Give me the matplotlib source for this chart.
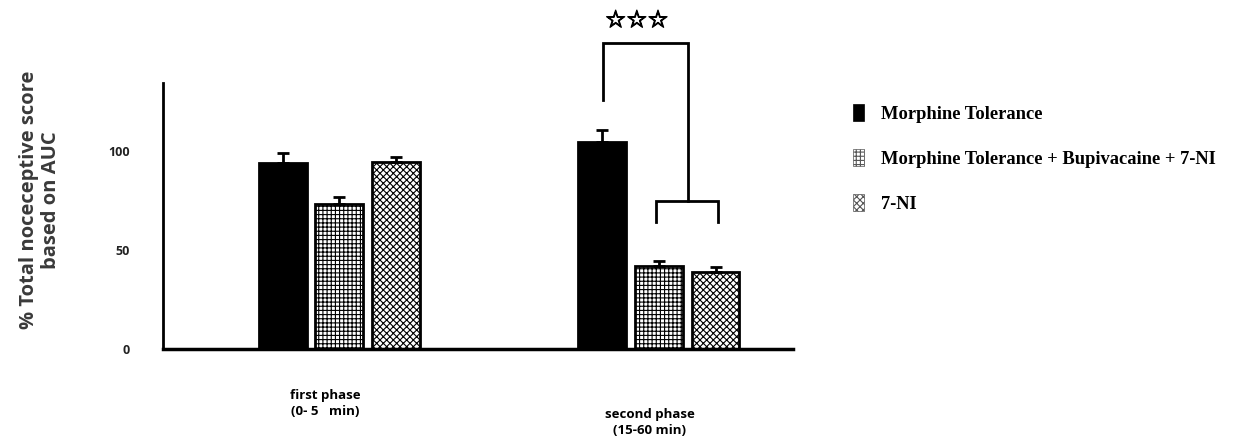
import matplotlib
matplotlib.use("Agg")
import matplotlib.pyplot as plt
from matplotlib.patches import Patch
import matplotlib.patheffects as pe
import numpy as np

phases = ["first phase\n(0- 5   min)", "second phase\n(15-60 min)"]
series = ["Morphine Tolerance", "Morphine Tolerance + Bupivacaine + 7-NI", "7-NI"]
means = {
    "Morphine Tolerance": [94, 104.5],
    "Morphine Tolerance + Bupivacaine + 7-NI": [73, 42],
    "7-NI": [94.5, 39],
}
errs = {
    "Morphine Tolerance": [5, 6],
    "Morphine Tolerance + Bupivacaine + 7-NI": [3.5, 2.5],
    "7-NI": [2.5, 2.5],
}
yticks = [0, 50, 100]
sig_label = "☆☆☆"

hatches = [None, "++++", "xxxxx"]
faces = ["black", "white", "white"]

plt.rcParams['hatch.linewidth'] = 0.8
fig = plt.figure(figsize=(12.33, 4.36), dpi=100)
ax = fig.add_axes([163/1233, 87/436, 630/1233, 266/436])

centers = np.array([2.8, 7.87])
offsets = [-0.9, 0.0, 0.9]
width = 0.76
handles = []
for i, s in enumerate(series):
    x = centers + offsets[i]
    ax.bar(x, means[s], width=width, color=faces[i], edgecolor="black",
           linewidth=2, hatch=hatches[i], zorder=2)
    ax.errorbar(x, means[s], yerr=[[0, 0], errs[s]], fmt="none", ecolor="black",
                elinewidth=2, capsize=4, capthick=2, zorder=3)
    handles.append(Patch(facecolor=faces[i], edgecolor="black" if i == 0 else "#555555",
                         hatch=hatches[i], linewidth=0.5, label=s))

ax.set_xlim(0, 10)
ax.set_ylim(0, 134.3)
for sp in ["top", "right"]:
    ax.spines[sp].set_visible(False)
ax.spines["left"].set_linewidth(2)
ax.spines["bottom"].set_linewidth(2.5)
ax.set_xticks([])
ax.set_yticks(yticks)
ax.set_yticklabels([str(t) for t in yticks], fontsize=9, fontweight="bold",
                   family="Open Sans", color="#222222")
ax.tick_params(axis="y", length=0, pad=24)

# phase labels
ax.text(2.57, -0.15, phases[0], transform=ax.get_xaxis_transform(), ha="center",
        va="top", fontsize=9.5, fontweight="bold", family="Open Sans", linespacing=1.3)
ax.text(7.73, -0.22, phases[1], transform=ax.get_xaxis_transform(), ha="center",
        va="top", fontsize=9.5, fontweight="bold", family="Open Sans", linespacing=1.3)

# significance bracket
lw = 2
ax.plot([6.98, 6.98, 8.33, 8.33], [125.8, 154.5, 154.5, 74.7], color="black",
        lw=lw, clip_on=False, solid_joinstyle="miter")
ax.plot([7.83, 7.83, 8.81, 8.81], [64.1, 74.7, 74.7, 64.1], color="black",
        lw=lw, clip_on=False, solid_joinstyle="miter")
ax.text(7.52, 166, sig_label, ha="center", va="center", fontsize=17,
        family="DejaVu Sans", clip_on=False,
        path_effects=[pe.withStroke(linewidth=0.9, foreground="black")])

# y label
fig.text(40/1233, 1 - 200/436, "% Total noceceptive score\nbased on AUC", rotation=90,
         ha="center", va="center", multialignment="center", fontsize=14.5,
         family="Open Sans", fontweight="bold", color="#3a3a3a", linespacing=1.15)

leg = fig.legend(handles=handles, loc="upper left", bbox_to_anchor=(846/1233, 1 - 97/436),
                 frameon=False, prop={"family": "Liberation Serif", "weight": "bold", "size": 13.3},
                 handlelength=0.55, handleheight=1.0, handletextpad=0.95, labelspacing=1.42,
                 borderaxespad=0)

fig.savefig("out.png", dpi=100, facecolor="white")
